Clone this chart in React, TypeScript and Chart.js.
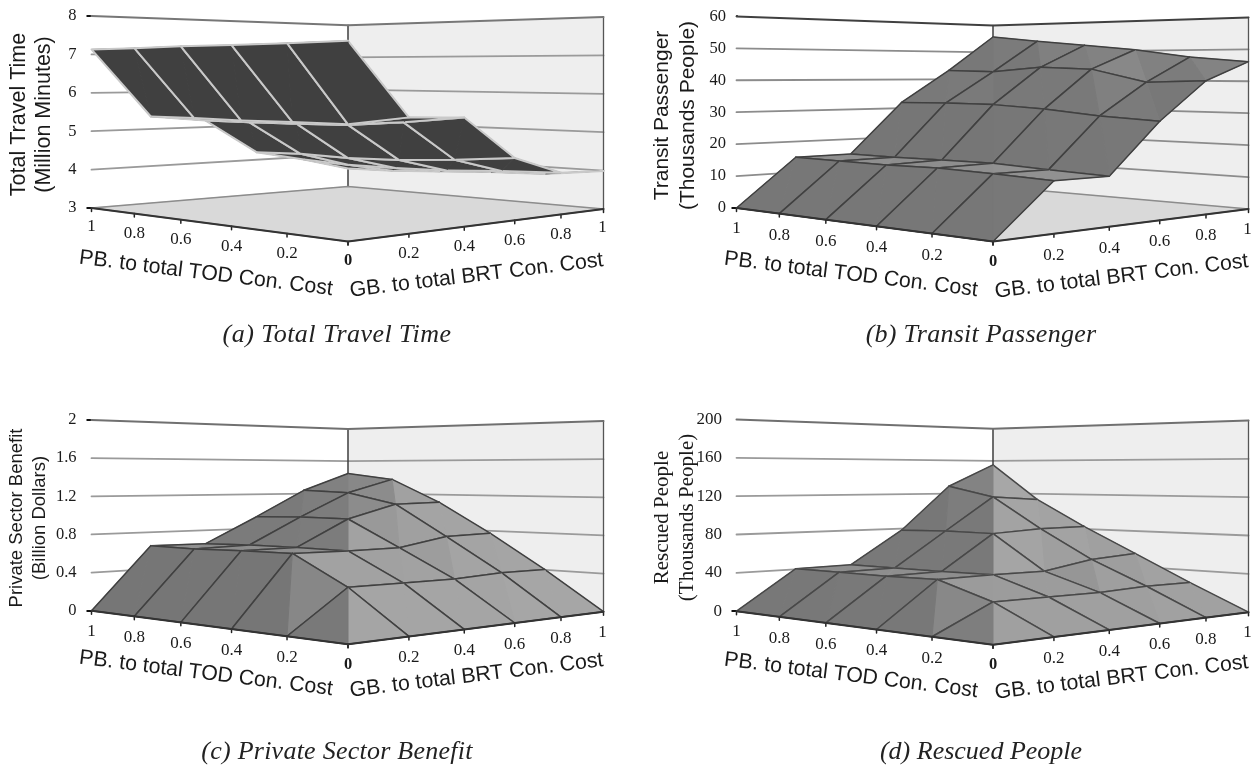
import React, { useEffect, useRef } from "react";
import { Chart, registerables } from "chart.js";

Chart.register(...registerables);

// ---- data: rows are GB share (0 -> 1), columns are PB share (1 -> 0) ----
const pbTicks = [1, 0.8, 0.6, 0.4, 0.2, 0];
const gbTicks = [0, 0.2, 0.4, 0.6, 0.8, 1];

const travelTime = [
  [7.13, 7.11, 7.1, 7.07, 7.05, 7.03],
  [5.36, 5.35, 5.32, 5.32, 5.3, 5.48],
  [5.22, 5.21, 5.21, 5.22, 5.32, 5.46],
  [4.25, 4.28, 4.24, 4.27, 4.36, 4.48],
  [3.95, 3.88, 3.88, 3.91, 3.99, 4.04],
  [3.58, 3.61, 3.69, 3.77, 3.82, 4.0],
];
const transitPassenger = [
  [0, 0, 0, 0, 0, 0],
  [15, 14.8, 14.6, 14.8, 14.3, 13.6],
  [15.2, 15.1, 15.2, 15.2, 14.4, 13.7],
  [32.8, 32.8, 32.5, 31.3, 29.5, 28.3],
  [44.6, 43.9, 45.2, 44.3, 39.9, 40.2],
  [57.9, 55.6, 53.5, 51.4, 48.4, 46.5],
];
const privateBenefit = [
  [0, 0, 0, 0, 0, 0],
  [0.66, 0.65, 0.66, 0.66, 0.38, 0],
  [0.66, 0.67, 0.67, 0.66, 0.38, 0],
  [0.96, 0.97, 0.96, 0.67, 0.38, 0],
  [1.28, 1.25, 1.12, 0.77, 0.41, 0],
  [1.5, 1.42, 1.14, 0.79, 0.41, 0],
];
const rescuedPeople = [
  [0, 0, 0, 0, 0, 0],
  [41, 41, 40.7, 41.4, 25, 0],
  [42, 42, 42, 42.5, 25, 0],
  [80, 81, 80, 42.6, 25, 0],
  [133, 120, 84, 52, 27, 0],
  [161, 117, 85, 56, 27, 0],
];

const travelTicks = [3, 4, 5, 6, 7, 8];
const passengerTicks = [0, 10, 20, 30, 40, 50, 60];
const benefitTicks = [0, 0.4, 0.8, 1.2, 1.6, 2];
const rescuedTicks = [0, 40, 80, 120, 160, 200];

const pbTitle = "PB. to total TOD Con. Cost";
const gbTitle = "GB. to total BRT Con. Cost";

// ---- layout ----
const SERIF = '"Liberation Serif"';
const SANS = '"Liberation Sans"';
const corner = { F: [348, 241.5], L: [91.5, 208], B: [348, 186.5], R: [603.5, 209] };
const WALL_K = 0.235;
const RISE_P = 0.297;
const RISE_G = 0.307;

type Panel = {
  cx: number; cy: number; dx: number; dy: number; wallH: number;
  z: number[][]; ticks: number[]; caption: string; capX: number; capY: number; capSpacing: string;
  title: string[]; titleFont: string; titleX: number[]; titleY: number; textShift: number; labelOff: number;
  under: boolean; edge: string; edgeW: number; topCol: string; gridCol: string; axisCol: string;
  tickPad: number; tickFont: number; topTick: boolean;
};

const panels: Panel[] = [
  { cx: 0, cy: 0, dx: 0, dy: 0, wallH: 192, z: travelTime, ticks: travelTicks, caption: "(a) Total Travel Time", capX: 337, capY: 335, capSpacing: "0.45px",
    title: ["Total Travel Time", "(Million Minutes)"], titleFont: `21.5px ${SANS}`, titleX: [19, 44], titleY: 114.5, textShift: 0, labelOff: 20,
    under: true, edge: "#c9c9c9", edgeW: 2, topCol: "#777777", gridCol: "#9a9a9a", axisCol: "#666666",
    tickPad: 10, tickFont: 16.5, topTick: true },
  { cx: 629, cy: 0, dx: 645, dy: 0, wallH: 191.6, z: transitPassenger, ticks: passengerTicks, caption: "(b) Transit Passenger", capX: 981, capY: 335, capSpacing: "0.25px",
    title: ["Transit Passenger", "(Thousands People)"], titleFont: `21px ${SANS}`, titleX: [662, 688], titleY: 115.5, textShift: 1, labelOff: 21.5,
    under: false, edge: "#404040", edgeW: 1.5, topCol: "#404040", gridCol: "#8c8c8c", axisCol: "#444444",
    tickPad: 5.5, tickFont: 16.5, topTick: false },
  { cx: 0, cy: 385, dx: 0, dy: 402.7, wallH: 190.7, z: privateBenefit, ticks: benefitTicks, caption: "(c) Private Sector Benefit", capX: 337, capY: 752, capSpacing: "0.25px",
    title: ["Private Sector Benefit", "(Billion Dollars)"], titleFont: `18.5px ${SANS}`, titleX: [17, 40], titleY: 518, textShift: 400, labelOff: 21.5,
    under: false, edge: "#404040", edgeW: 1.5, topCol: "#707070", gridCol: "#9a9a9a", axisCol: "#555555",
    tickPad: 10, tickFont: 16.5, topTick: true },
  { cx: 629, cy: 385, dx: 645, dy: 403.2, wallH: 191.7, z: rescuedPeople, ticks: rescuedTicks, caption: "(d) Rescued People", capX: 981, capY: 752, capSpacing: "0px",
    title: ["Rescued People", "(Thousands People)"], titleFont: `21px ${SERIF}`, titleX: [662, 687], titleY: 517.5, textShift: 402, labelOff: 21.5,
    under: false, edge: "#484848", edgeW: 1.5, topCol: "#707070", gridCol: "#9a9a9a", axisCol: "#555555",
    tickPad: 9.5, tickFont: 17, topTick: false },
];

const CANVAS_W = 629;
const CANVAS_H = 384;

// ---- projective floor ----
const sumX = corner.F[0] - corner.L[0] + corner.B[0] - corner.R[0];
const sumY = corner.F[1] - corner.L[1] + corner.B[1] - corner.R[1];
const d1x = corner.L[0] - corner.B[0];
const d2x = corner.R[0] - corner.B[0];
const d1y = corner.L[1] - corner.B[1];
const d2y = corner.R[1] - corner.B[1];
const den = d1x * d2y - d2x * d1y;
const kP = (sumX * d2y - d2x * sumY) / den;
const kG = (d1x * sumY - sumX * d1y) / den;

function floorAt(p: number, g: number) {
  const w = 1 + kP * p + kG * g;
  const x = (corner.F[0] + (corner.L[0] - corner.F[0] + kP * corner.L[0]) * p + (corner.R[0] - corner.F[0] + kG * corner.R[0]) * g) / w;
  const y = (corner.F[1] + (corner.L[1] - corner.F[1] + kP * corner.L[1]) * p + (corner.R[1] - corner.F[1] + kG * corner.R[1]) * g) / w;
  return { x, y, w };
}

function buildDatasets(pn: Panel) {
  const zMin = pn.ticks[0];
  const zMax = pn.ticks[pn.ticks.length - 1];
  const hL = pn.wallH / (zMax - zMin);
  const baseY = corner.L[1] + pn.dy;
  const toData = (sx: number, sy: number) => ({ x: sx + pn.dx, y: zMin + (baseY - sy) / hL });
  const surf = (p: number, g: number, z: number) => {
    const f = floorAt(p, g);
    const h = (hL * (1 + RISE_P)) / (1 + RISE_P * p + RISE_G * g);
    return toData(f.x, f.y + pn.dy - (z - zMin) * h);
  };
  const wall = (p: number, g: number, z: number) => {
    const f = floorAt(p, g);
    const h = (hL * (1 + WALL_K)) / (1 + WALL_K * p + WALL_K * g);
    return toData(f.x, f.y + pn.dy - (z - zMin) * h);
  };
  const base = { showLine: true, pointRadius: 0, tension: 0, clip: false, borderJoinStyle: "round", borderCapStyle: "round" };
  const line = (data: any[], color: string, width: number, fillCol?: string) => ({
    ...base, data, borderColor: color, borderWidth: width, facetFill: fillCol,
  });

  // surface triangles, far to near
  const tris: { depth: number; ds: any }[] = [];
  const range = zMax - zMin;
  const shade = (sp: number, sg: number) => {
    if (pn.under) return "#404040";
    const v = Math.round(143 + 26 * Math.tanh(1.3 * (sp - sg)));
    return `rgb(${v},${v},${v})`;
  };
  for (let gi = 0; gi < 5; gi++) {
    for (let pi = 5; pi > 0; pi--) {
      const p0 = pbTicks[pi];
      const p1 = pbTicks[pi - 1];
      const g0 = gbTicks[gi];
      const g1 = gbTicks[gi + 1];
      const z00 = pn.z[gi][pi];
      const z10 = pn.z[gi][pi - 1];
      const z01 = pn.z[gi + 1][pi];
      const z11 = pn.z[gi + 1][pi - 1];
      const depth = floorAt((p0 + p1) / 2, (g0 + g1) / 2).w;
      const n = range * 0.2;
      tris.push({
        depth,
        ds: line([surf(p0, g0, z00), surf(p1, g0, z10), surf(p1, g1, z11)], pn.edge, pn.edgeW, shade((z10 - z00) / n, (z11 - z10) / n)),
      });
      tris.push({
        depth,
        ds: line([surf(p0, g0, z00), surf(p0, g1, z01), surf(p1, g1, z11)], pn.edge, pn.edgeW, shade((z11 - z01) / n, (z01 - z00) / n)),
      });
    }
  }
  tris.sort((a, b) => a.depth - b.depth);

  const list: any[] = [];
  // nearest first: Chart.js paints the first dataset last
  list.push(line([surf(1, 0, zMin), surf(0, 0, zMin), surf(0, 1, zMin)], "#333333", 2));
  pbTicks.forEach((p) => {
    const a = surf(p, 0, zMin);
    list.push(line([a, { x: a.x, y: a.y - 3.5 / hL }], "#222222", 1.5));
  });
  gbTicks.forEach((g) => {
    const a = surf(0, g, zMin);
    list.push(line([a, { x: a.x, y: a.y - 3.5 / hL }], "#222222", 1.5));
  });
  tris.forEach((t) => list.push(t.ds));
  // floor
  list.push(line([wall(1, 0, zMin), wall(0, 0, zMin), wall(0, 1, zMin), wall(1, 1, zMin), wall(1, 0, zMin)], "#8c8c8c", 1.3, "#d9d9d9"));
  // back edge and top rim
  list.push(line([wall(1, 0, zMax), wall(1, 1, zMax), wall(0, 1, zMax)], pn.topCol, 2));
  list.push(line([wall(1, 1, zMin), wall(1, 1, zMax)], "#3c3c3c", 1.5));
  list.push(line([wall(0, 1, zMin), wall(0, 1, zMax)], "#555555", 1.3));
  // wall gridlines
  pn.ticks.slice(1, -1).forEach((t) => {
    list.push(line([wall(1, 0, t), wall(1, 1, t), wall(0, 1, t)], pn.gridCol, 1.8));
  });
  // walls
  list.push(line([wall(1, 0, zMin), wall(1, 1, zMin), wall(1, 1, zMax), wall(1, 0, zMax)], "rgba(0,0,0,0)", 0, "#ffffff"));
  list.push(line([wall(1, 1, zMin), wall(0, 1, zMin), wall(0, 1, zMax), wall(1, 1, zMax)], "rgba(0,0,0,0)", 0, "#eeeeee"));
  return list;
}

const facetPlugin = {
  id: "facetFill",
  beforeDatasetDraw(chart: any, args: any) {
    const ds = chart.data.datasets[args.index];
    if (!ds.facetFill) return;
    const ctx = chart.ctx;
    const pts = args.meta.data;
    ctx.save();
    ctx.beginPath();
    pts.forEach((pt: any, i: number) => (i ? ctx.lineTo(pt.x, pt.y) : ctx.moveTo(pt.x, pt.y)));
    ctx.closePath();
    ctx.fillStyle = ds.facetFill;
    ctx.strokeStyle = ds.facetFill;
    ctx.lineWidth = 1;
    ctx.fill();
    ctx.stroke();
    ctx.restore();
  },
};

function textPlugin(pn: Panel) {
  return {
    id: "panelText",
    afterDraw(chart: any) {
      const ctx = chart.ctx;
      const ox = pn.cx;
      const oy = pn.cy;
      ctx.save();
      ctx.fillStyle = "#1a1a1a";
      ctx.textAlign = "center";
      ctx.textBaseline = "middle";
      // tick labels along the floor edges
      const label = (v: number, x: number, y: number) => {
        ctx.font = v === 0 ? `bold 16.5px ${SERIF}` : `17px ${SERIF}`;
        ctx.fillText(String(v), x, y);
      };
      const zMin = pn.ticks[0];
      const hL = pn.wallH / (pn.ticks[pn.ticks.length - 1] - zMin);
      const yPix = (sy: number) => chart.scales.y.getPixelForValue(zMin + (corner.L[1] + pn.dy - sy) / hL);
      pbTicks.forEach((p) => {
        const f = floorAt(p, 0);
        label(p, chart.scales.x.getPixelForValue(f.x + pn.dx), yPix(f.y + pn.dy + pn.labelOff - (p === 1 || p === 0 ? 1 : 0)));
      });
      gbTicks.slice(1).forEach((g) => {
        const f = floorAt(0, g);
        label(g, chart.scales.x.getPixelForValue(f.x + pn.dx - (g === 1 ? 1 : 0)), yPix(f.y + pn.dy + pn.labelOff - (g === 1 ? 1 : 0)));
      });
      // axis titles
      const rot = (text: string, font: string, x: number, y: number, a: number) => {
        ctx.save();
        ctx.translate(x - ox, y - oy);
        ctx.rotate(a);
        ctx.font = font;
        ctx.fillText(text, 0, 0);
        ctx.restore();
      };
      rot(pbTitle, `21.3px ${SANS}`, 206 + pn.dx, 273.5 + pn.textShift, (7.1 * Math.PI) / 180);
      rot(gbTitle, `21.3px ${SANS}`, 476.5 + pn.dx, 275.5 + pn.textShift, (-6.9 * Math.PI) / 180);
      pn.title.forEach((t, i) => rot(t, pn.titleFont, pn.titleX[i], pn.titleY, -Math.PI / 2));
      // caption
      ctx.font = `italic 26px ${SERIF}`;
      (ctx as any).letterSpacing = pn.capSpacing;
      ctx.fillStyle = "#222";
      ctx.fillText(pn.caption, pn.capX - ox, pn.capY - oy);
      ctx.restore();
    },
  };
}

function PanelChart({ pn }: { pn: Panel }) {
  const ref = useRef<HTMLCanvasElement>(null);
  useEffect(() => {
    const leftPx = corner.L[0] + pn.dx - pn.cx;
    const rightPx = corner.R[0] + pn.dx - pn.cx;
    const bottomPx = corner.L[1] + pn.dy - pn.cy;
    const zMin = pn.ticks[0];
    const zMax = pn.ticks[pn.ticks.length - 1];
    const chart = new Chart(ref.current as HTMLCanvasElement, {
      type: "scatter",
      data: { datasets: buildDatasets(pn) as any },
      plugins: [facetPlugin, textPlugin(pn)],
      options: {
        animation: false,
        responsive: false,
        events: [],
        layout: {
          padding: { left: 0, right: CANVAS_W - rightPx, top: bottomPx - pn.wallH, bottom: CANVAS_H - bottomPx },
        },
        plugins: { legend: { display: false }, tooltip: { enabled: false }, title: { display: false } },
        scales: {
          x: { type: "linear", display: false, min: corner.L[0] + pn.dx, max: corner.R[0] + pn.dx },
          y: {
            type: "linear",
            min: zMin,
            max: zMax,
            afterBuildTicks: (s: any) => {
              s.ticks = pn.ticks.map((v) => ({ value: v }));
            },
            afterFit: (s: any) => {
              s.width = leftPx;
              s.paddingTop = 0;
              s.paddingBottom = 0;
            },
            border: { display: true, color: pn.axisCol, width: 2 },
            grid: {
              drawOnChartArea: false,
              drawTicks: true,
              tickLength: 5,
              lineWidth: 2,
              color: (c: any) =>
                c.tick && (c.tick.value === zMin || (pn.topTick && c.tick.value === zMax)) ? "#111111" : "rgba(0,0,0,0)",
            },
            ticks: {
              autoSkip: false,
              padding: pn.tickPad,
              color: "#1a1a1a",
              font: { family: "Liberation Serif", size: pn.tickFont },
              callback: (v: any) => String(v),
            },
          },
        },
      } as any,
    });
    return () => chart.destroy();
  }, [pn]);
  return (
    <canvas
      ref={ref}
      width={CANVAS_W}
      height={CANVAS_H}
      style={{ position: "absolute", left: pn.cx, top: pn.cy, width: CANVAS_W, height: CANVAS_H }}
    />
  );
}

export default function App() {
  return (
    <div style={{ position: "absolute", left: 0, top: 0, width: 1258, height: 769, background: "#fff", overflow: "hidden" }}>
      {panels.map((pn) => (
        <PanelChart key={pn.caption} pn={pn} />
      ))}
    </div>
  );
}
